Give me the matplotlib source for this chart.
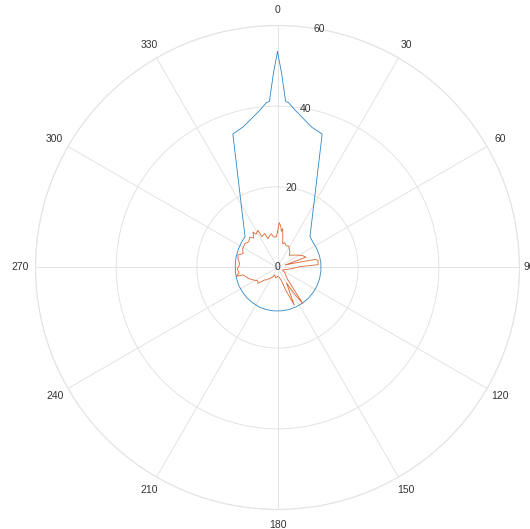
import numpy as np
import matplotlib
matplotlib.use("Agg")
import matplotlib.pyplot as plt

# ---- data (angles in degrees, radii in data units) ----
blue_theta = [0, 1.2, 2.8, 3.8, 6.5, 13.7, 18.5, 46.5, 55, 65, 75, 85, 95, 105, 115, 125,
              135, 145, 155, 165, 175, 185, 195, 205, 215, 225, 235, 245, 255, 265,
              275, 285, 295, 305, 313.5, 341.5, 346.3, 353.0, 356.2, 357.2, 358.8, 360]
blue_r = [53.5, 48.2, 41.2, 41.0, 39.2, 35.8, 34.9, 11.1, 10.8, 10.8, 10.8, 10.8, 10.8, 10.8,
          10.8, 10.8, 10.8, 10.8, 10.8, 10.8, 10.8, 10.8, 10.8, 10.8, 10.7, 10.7, 10.6, 10.6,
          10.5, 10.5, 10.5, 10.6, 10.7, 10.9, 11.1, 34.9, 35.9, 38.9, 41.0, 41.2, 48.2, 53.5]

orange_theta = [0, 2.3, 4.5, 6, 7.6, 9.5, 12.3, 16, 22, 28, 32, 38, 44, 52, 58, 64, 70, 72,
                75, 78, 80, 86, 88, 95, 105, 116, 125, 135, 140, 145, 147, 150, 156, 160,
                164, 170, 180, 190, 200.5, 208, 215.8, 220, 225.7, 228.8, 231, 237, 243,
                250, 254, 257.7, 258, 262, 268, 275, 282, 287.6, 292, 298, 306, 312, 317.7,
                321, 325.4, 327, 332.3, 333, 339.3, 341.7, 345, 349.6, 353, 357.7, 360]
orange_r = [8.8, 11.1, 10.3, 9.0, 9.7, 8.0, 6.0, 6.4, 5.8, 6.0, 5.5, 5.0, 4.2, 5.0, 5.8, 6.8,
            7.5, 2.0, 4.0, 9.6, 10.2, 10.1, 5.5, 3.5, 2.0, 1.4, 2.2, 3.0, 4.0, 10.9, 8.2, 4.5,
            10.2, 6.0, 3.2, 2.5, 2.2, 2.6, 2.0, 2.8, 3.3, 4.0, 4.4, 5.3, 6.2, 6.0, 6.8, 7.8,
            8.2, 8.75, 10.5, 9.6, 10.0, 9.4, 10.0, 10.3, 9.2, 9.8, 10.0, 9.6, 10.2, 9.4, 10.7,
            9.8, 10.4, 8.6, 9.0, 7.5, 8.0, 8.5, 7.6, 7.6, 8.8]

theta_ticks = list(range(0, 360, 30))
r_ticks = [0, 20, 40, 60]

# ---- styling ----
plt.rcParams['font.family'] = ['Liberation Sans', 'DejaVu Sans']
text_col = '#333333'
grid_col = '#e3e3e3'

fig = plt.figure(figsize=(5.30, 5.29), dpi=100)
ax = fig.add_axes([0.0670, 0.0369, 0.9132, 0.9149], projection='polar')
ax.set_theta_zero_location('N')
ax.set_theta_direction(-1)

ax.plot(np.deg2rad(blue_theta), blue_r, color='#2f86c4', lw=0.6)
ax.plot(np.deg2rad(orange_theta), orange_r, color='#dc6430', lw=0.6)

ax.set_ylim(0, 60)
ax.set_rticks(r_ticks)
ax.set_yticklabels([])
ax.set_xticks(np.deg2rad(theta_ticks))
labels = [str(t) if t != 90 else '' for t in theta_ticks]
ax.set_xticklabels(labels, color=text_col, fontsize=7.5)
ax.tick_params(axis='x', pad=0.5)
ax.grid(True, color=grid_col, lw=0.7)
ax.spines['polar'].set_color(grid_col)
ax.spines['polar'].set_linewidth(0.8)

# the 90 label sits just outside the right edge, partly clipped by the figure
ax.annotate('90', xy=(np.deg2rad(90), 60), xytext=(4, 0), textcoords='offset pixels',
            ha='left', va='center', color=text_col, fontsize=7.5, annotation_clip=False)

for rv in r_ticks:
    ax.text(np.deg2rad(10), rv, str(rv), ha='center', va='center', color=text_col,
            fontsize=7.5)

fig.savefig('out.png', dpi=100)
